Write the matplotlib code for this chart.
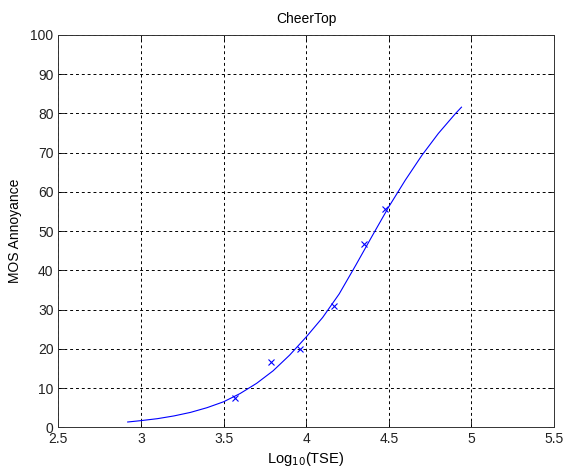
import numpy as np
import matplotlib
matplotlib.use("Agg")
import matplotlib.pyplot as plt

# measured points (crosses)
meas_x = [3.57, 3.79, 3.96, 4.17, 4.35, 4.48]
meas_y = [7.5, 16.6, 20.0, 30.9, 46.6, 55.7]

# fitted curve
fit_x = [2.92, 3.0, 3.1, 3.2, 3.3, 3.4, 3.5, 3.6, 3.7, 3.8, 3.9,
         4.0, 4.1, 4.2, 4.3, 4.4, 4.5, 4.6, 4.7, 4.8, 4.9, 4.94]
fit_y = [1.35, 1.7, 2.2, 2.9, 3.8, 5.0, 6.5, 8.6, 11.2, 14.4, 18.4,
         23.0, 28.0, 34.0, 41.3, 48.8, 56.2, 63.0, 69.3, 74.9, 79.8, 81.6]

xticks = [2.5, 3, 3.5, 4, 4.5, 5, 5.5]
yticks = list(range(0, 101, 10))

plt.rcParams['font.family'] = ['Liberation Sans', 'DejaVu Sans']
plt.rcParams['font.size'] = 10

fig = plt.figure(figsize=(5.64, 4.72), dpi=100)
ax = fig.add_axes([58.3 / 564, 1 - 427.3 / 472, (554 - 58.3) / 564, (427.3 - 35) / 472])

ax.plot(fit_x, fit_y, color='blue', linewidth=0.8)
ax.plot(meas_x, meas_y, 'x', color='blue', markersize=5, markeredgewidth=0.8)

ax.set_xlim(2.5, 5.5)
ax.set_ylim(0, 100)
ax.set_xticks(xticks)
ax.set_xticklabels(['2.5', '3', '3.5', '4', '4.5', '5', '5.5'])
ax.set_yticks(yticks)
ax.grid(True, color='black', linestyle=(0, (3, 3)), linewidth=0.7)
ax.tick_params(direction='in', top=True, right=True, length=4, width=0.6,
               colors='black', labelcolor='#222222', labelsize=10)
for s in ax.spines.values():
    s.set_linewidth(0.7)
    s.set_color('#333333')

ax.set_title('CheerTop', fontsize=10, pad=9)
ax.set_xlabel('Log$_{10}$(TSE)', fontsize=10.5, labelpad=3)
ax.set_ylabel('MOS Annoyance', fontsize=10, labelpad=6)

fig.savefig('out.png', dpi=100)
